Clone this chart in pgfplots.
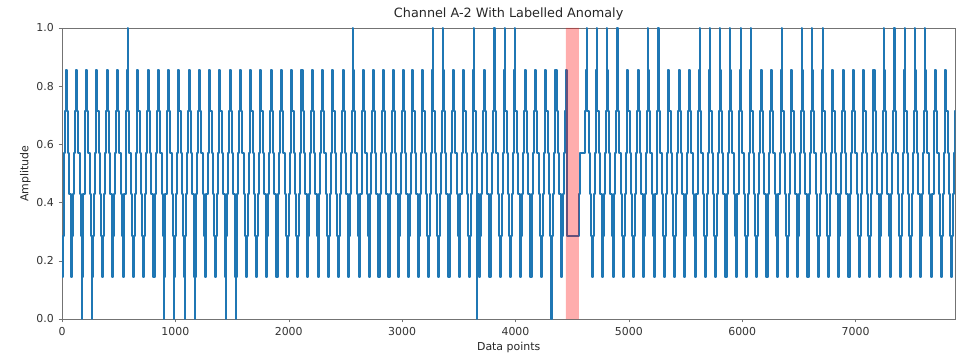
\documentclass[border=0pt]{standalone}
\usepackage{fontspec}
\setmainfont{DejaVu Sans}
\usepackage{pgfplots}
\pgfplotsset{compat=1.18}
\definecolor{mplblue}{HTML}{1F77B4}
\begin{document}
\begin{tikzpicture}
\begin{axis}[
 scale only axis, width=670pt, height=218.25pt,
 xmin=0, xmax=7880, ymin=0, ymax=1,
 xtick={0,1000,2000,3000,4000,5000,6000,7000},
 ytick={0,0.2,0.4,0.6,0.8,1},
 tick pos=left, tick align=outside, major tick length=2.6pt,
 axis line style={black!55}, tick style={black!55},
 ticklabel style={font=\fontsize{8.2}{9}\selectfont, text=black!80},
 /pgf/number format/assume math mode=true,
 x tick label style={/pgf/number format/1000 sep={}},
 y tick label style={/pgf/number format/fixed, /pgf/number format/fixed zerofill, /pgf/number format/precision=1},
 title={Channel A-2 With Labelled Anomaly},
 title style={font=\fontsize{9.6}{11}\selectfont, text=black!85, yshift=-4pt},
 xlabel={Data points}, ylabel={Amplitude},
 label style={font=\fontsize{8.2}{9}\selectfont, text=black!85},
 xlabel style={yshift=2pt}, ylabel style={yshift=-2.5pt},
]
\addplot[const plot, mplblue, line width=1.5pt, line join=round] coordinates {
(0,0.143)(8,0.286)(14,0.429)(20,0.571)(26,0.714)
(31,0.857)(40,0.714)(52,0.571)(64,0.429)(76,0.286)(82,0.143)(92,0.286)(98,0.429)(108,0.571)(116,0.714)
(121.5,0.857)(130.5,0.714)(142.5,0.571)(154.5,0.429)(166.5,0.286)(172.5,0.143)(176.5,0)(177.5,0.143)(182.5,0.286)(188.5,0.429)(198.5,0.571)(206.5,0.714)
(212,0.857)(221,0.714)(233,0.571)(245,0.429)(257,0.286)(263,0.143)(267,0)(268,0.143)(273,0.286)(279,0.429)(289,0.571)(297,0.714)
(302.5,0.857)(311.5,0.714)(323.5,0.571)(335.5,0.429)(347.5,0.286)(353.5,0.143)(363.5,0.286)(369.5,0.429)(379.5,0.571)(387.5,0.714)
(393,0.857)(402,0.714)(414,0.571)(426,0.429)(438,0.286)(444,0.143)(454,0.286)(460,0.429)(470,0.571)(478,0.714)
(483.5,0.857)(492.5,0.714)(504.5,0.571)(516.5,0.429)(528.5,0.286)(534.5,0.143)(544.5,0.286)(550.5,0.429)(560.5,0.571)(568.5,0.714)
(574,0.857)(578,1)(579,0.857)(583,0.714)(595,0.571)(607,0.429)(619,0.286)(625,0.143)(635,0.286)(641,0.429)(651,0.571)(659,0.714)
(664.5,0.857)(673.5,0.714)(685.5,0.571)(697.5,0.429)(709.5,0.286)(715.5,0.143)(725.5,0.286)(731.5,0.429)(741.5,0.571)(749.5,0.714)
(755,0.857)(764,0.714)(776,0.571)(788,0.429)(800,0.286)(806,0.143)(816,0.286)(822,0.429)(832,0.571)(840,0.714)
(845.5,0.857)(854.5,0.714)(866.5,0.571)(878.5,0.429)(890.5,0.286)(896.5,0.143)(900.5,0)(901.5,0.143)(906.5,0.286)(912.5,0.429)(922.5,0.571)(930.5,0.714)
(936,0.857)(945,0.714)(957,0.571)(969,0.429)(981,0.286)(987,0.143)(991,0)(992,0.143)(997,0.286)(1003,0.429)(1013,0.571)(1021,0.714)
(1026.5,0.857)(1035.5,0.714)(1047.5,0.571)(1059.5,0.429)(1071.5,0.286)(1077.5,0.143)(1081.5,0)(1082.5,0.143)(1087.5,0.286)(1093.5,0.429)(1103.5,0.571)(1111.5,0.714)
(1117,0.857)(1126,0.714)(1138,0.571)(1150,0.429)(1162,0.286)(1168,0.143)(1172,0)(1173,0.143)(1178,0.286)(1184,0.429)(1194,0.571)(1202,0.714)
(1207.5,0.857)(1216.5,0.714)(1228.5,0.571)(1240.5,0.429)(1252.5,0.286)(1258.5,0.143)(1268.5,0.286)(1274.5,0.429)(1284.5,0.571)(1292.5,0.714)
(1298,0.857)(1307,0.714)(1319,0.571)(1331,0.429)(1343,0.286)(1349,0.143)(1359,0.286)(1365,0.429)(1375,0.571)(1383,0.714)
(1388.5,0.857)(1397.5,0.714)(1409.5,0.571)(1421.5,0.429)(1433.5,0.286)(1439.5,0.143)(1443.5,0)(1444.5,0.143)(1449.5,0.286)(1455.5,0.429)(1465.5,0.571)(1473.5,0.714)
(1479,0.857)(1488,0.714)(1500,0.571)(1512,0.429)(1524,0.286)(1530,0.143)(1534,0)(1535,0.143)(1540,0.286)(1546,0.429)(1556,0.571)(1564,0.714)
(1569.5,0.857)(1578.5,0.714)(1590.5,0.571)(1602.5,0.429)(1614.5,0.286)(1620.5,0.143)(1630.5,0.286)(1636.5,0.429)(1646.5,0.571)(1654.5,0.714)
(1660,0.857)(1669,0.714)(1681,0.571)(1693,0.429)(1705,0.286)(1711,0.143)(1721,0.286)(1727,0.429)(1737,0.571)(1745,0.714)
(1750.5,0.857)(1759.5,0.714)(1771.5,0.571)(1783.5,0.429)(1795.5,0.286)(1801.5,0.143)(1811.5,0.286)(1817.5,0.429)(1827.5,0.571)(1835.5,0.714)
(1841,0.857)(1850,0.714)(1862,0.571)(1874,0.429)(1886,0.286)(1892,0.143)(1902,0.286)(1908,0.429)(1918,0.571)(1926,0.714)
(1931.5,0.857)(1940.5,0.714)(1952.5,0.571)(1964.5,0.429)(1976.5,0.286)(1982.5,0.143)(1992.5,0.286)(1998.5,0.429)(2008.5,0.571)(2016.5,0.714)
(2022,0.857)(2031,0.714)(2043,0.571)(2055,0.429)(2067,0.286)(2073,0.143)(2083,0.286)(2089,0.429)(2099,0.571)(2107,0.714)
(2112.5,0.857)(2121.5,0.714)(2133.5,0.571)(2145.5,0.429)(2157.5,0.286)(2163.5,0.143)(2173.5,0.286)(2179.5,0.429)(2189.5,0.571)(2197.5,0.714)
(2203,0.857)(2212,0.714)(2224,0.571)(2236,0.429)(2248,0.286)(2254,0.143)(2264,0.286)(2270,0.429)(2280,0.571)(2288,0.714)
(2293.5,0.857)(2302.5,0.714)(2314.5,0.571)(2326.5,0.429)(2338.5,0.286)(2344.5,0.143)(2354.5,0.286)(2360.5,0.429)(2370.5,0.571)(2378.5,0.714)
(2384,0.857)(2393,0.714)(2405,0.571)(2417,0.429)(2429,0.286)(2435,0.143)(2445,0.286)(2451,0.429)(2461,0.571)(2469,0.714)
(2474.5,0.857)(2483.5,0.714)(2495.5,0.571)(2507.5,0.429)(2519.5,0.286)(2525.5,0.143)(2535.5,0.286)(2541.5,0.429)(2551.5,0.571)(2559.5,0.714)
(2565,0.857)(2569,1)(2570,0.857)(2574,0.714)(2586,0.571)(2598,0.429)(2610,0.286)(2616,0.143)(2626,0.286)(2632,0.429)(2642,0.571)(2650,0.714)
(2653,0.857)(2662,0.714)(2674,0.571)(2686,0.429)(2698,0.286)(2704,0.143)(2714,0.286)(2720,0.429)(2730,0.571)(2738,0.714)
(2740,0.857)(2749,0.714)(2761,0.571)(2773,0.429)(2785,0.286)(2791,0.143)(2801,0.286)(2807,0.429)(2817,0.571)(2825,0.714)
(2828,0.857)(2837,0.714)(2849,0.571)(2861,0.429)(2873,0.286)(2879,0.143)(2889,0.286)(2895,0.429)(2905,0.571)(2913,0.714)
(2916,0.857)(2925,0.714)(2937,0.571)(2949,0.429)(2961,0.286)(2967,0.143)(2977,0.286)(2983,0.429)(2993,0.571)(3001,0.714)
(3004,0.857)(3013,0.714)(3025,0.571)(3037,0.429)(3049,0.286)(3055,0.143)(3065,0.286)(3071,0.429)(3081,0.571)(3089,0.714)
(3091,0.857)(3100,0.714)(3112,0.571)(3124,0.429)(3136,0.286)(3142,0.143)(3152,0.286)(3158,0.429)(3168,0.571)(3176,0.714)
(3179,0.857)(3188,0.714)(3200,0.571)(3212,0.429)(3224,0.286)(3230,0.143)(3240,0.286)(3246,0.429)(3256,0.571)(3264,0.714)
(3267,0.857)(3271,1)(3272,0.857)(3276,0.714)(3288,0.571)(3300,0.429)(3312,0.286)(3318,0.143)(3328,0.286)(3334,0.429)(3344,0.571)(3352,0.714)
(3357.5,0.857)(3361.5,1)(3362.5,0.857)(3366.5,0.714)(3378.5,0.571)(3390.5,0.429)(3402.5,0.286)(3408.5,0.143)(3418.5,0.286)(3424.5,0.429)(3434.5,0.571)(3442.5,0.714)
(3448,0.857)(3457,0.714)(3469,0.571)(3481,0.429)(3493,0.286)(3499,0.143)(3509,0.286)(3515,0.429)(3525,0.571)(3533,0.714)
(3538.5,0.857)(3547.5,0.714)(3559.5,0.571)(3571.5,0.429)(3583.5,0.286)(3589.5,0.143)(3599.5,0.286)(3605.5,0.429)(3615.5,0.571)(3623.5,0.714)
(3629,0.857)(3633,1)(3634,0.857)(3638,0.714)(3650,0.571)(3660,0)(3661,0.571)(3662,0.429)(3674,0.286)(3680,0.143)(3690,0.286)(3696,0.429)(3706,0.571)(3714,0.714)
(3719.5,0.857)(3728.5,0.714)(3740.5,0.571)(3752.5,0.429)(3764.5,0.286)(3770.5,0.143)(3780.5,0.286)(3786.5,0.429)(3796.5,0.571)(3804.5,0.714)
(3810,0.857)(3814,1)(3815,0.857)(3819,0.714)(3831,0.571)(3843,0.429)(3855,0.286)(3861,0.143)(3871,0.286)(3877,0.429)(3887,0.571)(3895,0.714)
(3900.5,0.857)(3904.5,1)(3905.5,0.857)(3909.5,0.714)(3921.5,0.571)(3933.5,0.429)(3945.5,0.286)(3951.5,0.143)(3961.5,0.286)(3967.5,0.429)(3977.5,0.571)(3985.5,0.714)
(3991,0.857)(3998,1)(3999,0.857)(4000,0.714)(4012,0.571)(4024,0.429)(4036,0.286)(4042,0.143)(4052,0.286)(4058,0.429)(4068,0.571)(4076,0.714)
(4081.5,0.857)(4090.5,0.714)(4102.5,0.571)(4114.5,0.429)(4126.5,0.286)(4132.5,0.143)(4142.5,0.286)(4148.5,0.429)(4158.5,0.571)(4166.5,0.714)
(4172,0.857)(4181,0.714)(4193,0.571)(4205,0.429)(4217,0.286)(4223,0.143)(4233,0.286)(4239,0.429)(4249,0.571)(4257,0.714)
(4262.5,0.857)(4271.5,0.714)(4283.5,0.571)(4295.5,0.429)(4307.5,0.286)(4313.5,0.143)(4317.5,0)(4318.5,0.143)(4323.5,0.286)(4329.5,0.429)(4339.5,0.571)(4347.5,0.714)
(4353,0.857)(4362,0.714)(4374,0.571)(4386,0.429)(4398,0.286)(4404,0.143)(4414,0.286)(4420,0.429)(4430,0.571)(4438,0.714)
(4443.5,0.857)(4454,0.286)(4561,0.429)(4571,0.571)(4609,0.714)
(4624,0.857)(4628,1)(4629,0.857)(4633,0.714)(4645,0.571)(4657,0.429)(4669,0.286)(4675,0.143)(4685,0.286)(4691,0.429)(4701,0.571)(4709,0.714)
(4714.5,0.857)(4718.5,1)(4719.5,0.857)(4723.5,0.714)(4735.5,0.571)(4747.5,0.429)(4759.5,0.286)(4765.5,0.143)(4775.5,0.286)(4781.5,0.429)(4791.5,0.571)(4799.5,0.714)
(4805,0.857)(4809,1)(4810,0.857)(4814,0.714)(4826,0.571)(4838,0.429)(4850,0.286)(4856,0.143)(4866,0.286)(4872,0.429)(4882,0.571)(4890,0.714)
(4895.5,0.857)(4899.5,1)(4900.5,0.857)(4904.5,0.714)(4916.5,0.571)(4928.5,0.429)(4940.5,0.286)(4946.5,0.143)(4956.5,0.286)(4962.5,0.429)(4972.5,0.571)(4980.5,0.714)
(4986,0.857)(4995,0.714)(5007,0.571)(5019,0.429)(5031,0.286)(5037,0.143)(5047,0.286)(5053,0.429)(5063,0.571)(5071,0.714)
(5076.5,0.857)(5085.5,0.714)(5097.5,0.571)(5109.5,0.429)(5121.5,0.286)(5127.5,0.143)(5137.5,0.286)(5143.5,0.429)(5153.5,0.571)(5161.5,0.714)
(5167,0.857)(5171,1)(5172,0.857)(5176,0.714)(5188,0.571)(5200,0.429)(5212,0.286)(5218,0.143)(5228,0.286)(5234,0.429)(5244,0.571)(5252,0.714)
(5257.5,0.857)(5261.5,1)(5262.5,0.857)(5266.5,0.714)(5278.5,0.571)(5290.5,0.429)(5302.5,0.286)(5308.5,0.143)(5318.5,0.286)(5324.5,0.429)(5334.5,0.571)(5342.5,0.714)
(5348,0.857)(5357,0.714)(5369,0.571)(5381,0.429)(5393,0.286)(5399,0.143)(5409,0.286)(5415,0.429)(5425,0.571)(5433,0.714)
(5438.5,0.857)(5447.5,0.714)(5459.5,0.571)(5471.5,0.429)(5483.5,0.286)(5489.5,0.143)(5499.5,0.286)(5505.5,0.429)(5515.5,0.571)(5523.5,0.714)
(5529,0.857)(5538,0.714)(5550,0.571)(5562,0.429)(5574,0.286)(5580,0.143)(5590,0.286)(5596,0.429)(5606,0.571)(5614,0.714)
(5619.5,0.857)(5623.5,1)(5624.5,0.857)(5628.5,0.714)(5640.5,0.571)(5652.5,0.429)(5664.5,0.286)(5670.5,0.143)(5680.5,0.286)(5686.5,0.429)(5696.5,0.571)(5704.5,0.714)
(5710,0.857)(5714,1)(5715,0.857)(5719,0.714)(5731,0.571)(5743,0.429)(5755,0.286)(5761,0.143)(5771,0.286)(5777,0.429)(5787,0.571)(5795,0.714)
(5800.5,0.857)(5804.5,1)(5805.5,0.857)(5809.5,0.714)(5821.5,0.571)(5833.5,0.429)(5845.5,0.286)(5851.5,0.143)(5861.5,0.286)(5867.5,0.429)(5877.5,0.571)(5885.5,0.714)
(5891,0.857)(5895,1)(5896,0.857)(5900,0.714)(5912,0.571)(5924,0.429)(5936,0.286)(5942,0.143)(5952,0.286)(5958,0.429)(5968,0.571)(5976,0.714)
(5981.5,0.857)(5985.5,1)(5986.5,0.857)(5990.5,0.714)(6002.5,0.571)(6014.5,0.429)(6026.5,0.286)(6032.5,0.143)(6042.5,0.286)(6048.5,0.429)(6058.5,0.571)(6066.5,0.714)
(6072,0.857)(6076,1)(6077,0.857)(6081,0.714)(6093,0.571)(6105,0.429)(6117,0.286)(6123,0.143)(6133,0.286)(6139,0.429)(6149,0.571)(6157,0.714)
(6162.5,0.857)(6171.5,0.714)(6183.5,0.571)(6195.5,0.429)(6207.5,0.286)(6213.5,0.143)(6223.5,0.286)(6229.5,0.429)(6239.5,0.571)(6247.5,0.714)
(6253,0.857)(6262,0.714)(6274,0.571)(6286,0.429)(6298,0.286)(6304,0.143)(6314,0.286)(6320,0.429)(6330,0.571)(6338,0.714)
(6343.5,0.857)(6347.5,1)(6348.5,0.857)(6352.5,0.714)(6364.5,0.571)(6376.5,0.429)(6388.5,0.286)(6394.5,0.143)(6404.5,0.286)(6410.5,0.429)(6420.5,0.571)(6428.5,0.714)
(6434,0.857)(6443,0.714)(6455,0.571)(6467,0.429)(6479,0.286)(6485,0.143)(6495,0.286)(6501,0.429)(6511,0.571)(6519,0.714)
(6524.5,0.857)(6528.5,1)(6529.5,0.857)(6533.5,0.714)(6545.5,0.571)(6557.5,0.429)(6569.5,0.286)(6575.5,0.143)(6585.5,0.286)(6591.5,0.429)(6601.5,0.571)(6609.5,0.714)
(6615,0.857)(6619,1)(6620,0.857)(6624,0.714)(6636,0.571)(6648,0.429)(6660,0.286)(6666,0.143)(6676,0.286)(6682,0.429)(6692,0.571)(6700,0.714)
(6705.5,0.857)(6709.5,1)(6710.5,0.857)(6714.5,0.714)(6726.5,0.571)(6738.5,0.429)(6750.5,0.286)(6756.5,0.143)(6766.5,0.286)(6772.5,0.429)(6782.5,0.571)(6790.5,0.714)
(6796,0.857)(6805,0.714)(6817,0.571)(6829,0.429)(6841,0.286)(6847,0.143)(6857,0.286)(6863,0.429)(6873,0.571)(6881,0.714)
(6886.5,0.857)(6895.5,0.714)(6907.5,0.571)(6919.5,0.429)(6931.5,0.286)(6937.5,0.143)(6947.5,0.286)(6953.5,0.429)(6963.5,0.571)(6971.5,0.714)
(6977,0.857)(6986,0.714)(6998,0.571)(7010,0.429)(7022,0.286)(7028,0.143)(7038,0.286)(7044,0.429)(7054,0.571)(7062,0.714)
(7067.5,0.857)(7076.5,0.714)(7088.5,0.571)(7100.5,0.429)(7112.5,0.286)(7118.5,0.143)(7128.5,0.286)(7134.5,0.429)(7144.5,0.571)(7152.5,0.714)
(7158,0.857)(7167,0.714)(7179,0.571)(7191,0.429)(7203,0.286)(7209,0.143)(7219,0.286)(7225,0.429)(7235,0.571)(7243,0.714)
(7248.5,0.857)(7252.5,1)(7253.5,0.857)(7257.5,0.714)(7269.5,0.571)(7281.5,0.429)(7293.5,0.286)(7299.5,0.143)(7309.5,0.286)(7315.5,0.429)(7325.5,0.571)(7333.5,0.714)
(7339,0.857)(7343,1)(7344,0.857)(7348,0.714)(7360,0.571)(7372,0.429)(7384,0.286)(7390,0.143)(7400,0.286)(7406,0.429)(7416,0.571)(7424,0.714)
(7429.5,0.857)(7433.5,1)(7434.5,0.857)(7438.5,0.714)(7450.5,0.571)(7462.5,0.429)(7474.5,0.286)(7480.5,0.143)(7490.5,0.286)(7496.5,0.429)(7506.5,0.571)(7514.5,0.714)
(7520,0.857)(7524,1)(7525,0.857)(7529,0.714)(7541,0.571)(7553,0.429)(7565,0.286)(7571,0.143)(7581,0.286)(7587,0.429)(7597,0.571)(7605,0.714)
(7610.5,0.857)(7614.5,1)(7615.5,0.857)(7619.5,0.714)(7631.5,0.571)(7643.5,0.429)(7655.5,0.286)(7661.5,0.143)(7671.5,0.286)(7677.5,0.429)(7687.5,0.571)(7695.5,0.714)
(7701,0.857)(7710,0.714)(7722,0.571)(7734,0.429)(7746,0.286)(7752,0.143)(7762,0.286)(7768,0.429)(7778,0.571)(7786,0.714)
(7791.5,0.857)(7800.5,0.714)(7812.5,0.571)(7824.5,0.429)(7836.5,0.286)(7842.5,0.143)(7852.5,0.286)(7858.5,0.429)(7868.5,0.571)(7876.5,0.714)
(7880,0.714)
};
\addplot[draw=none, fill=red, fill opacity=0.32, forget plot] coordinates {(4444,0) (4444,1) (4559,1) (4559,0)} \closedcycle;
\end{axis}
\pgfresetboundingbox
\path ([shift={(-46.5pt,-26.25pt)}]current axis.south west) rectangle ([shift={(0.5pt,21pt)}]current axis.north east);
\end{tikzpicture}
\end{document}
